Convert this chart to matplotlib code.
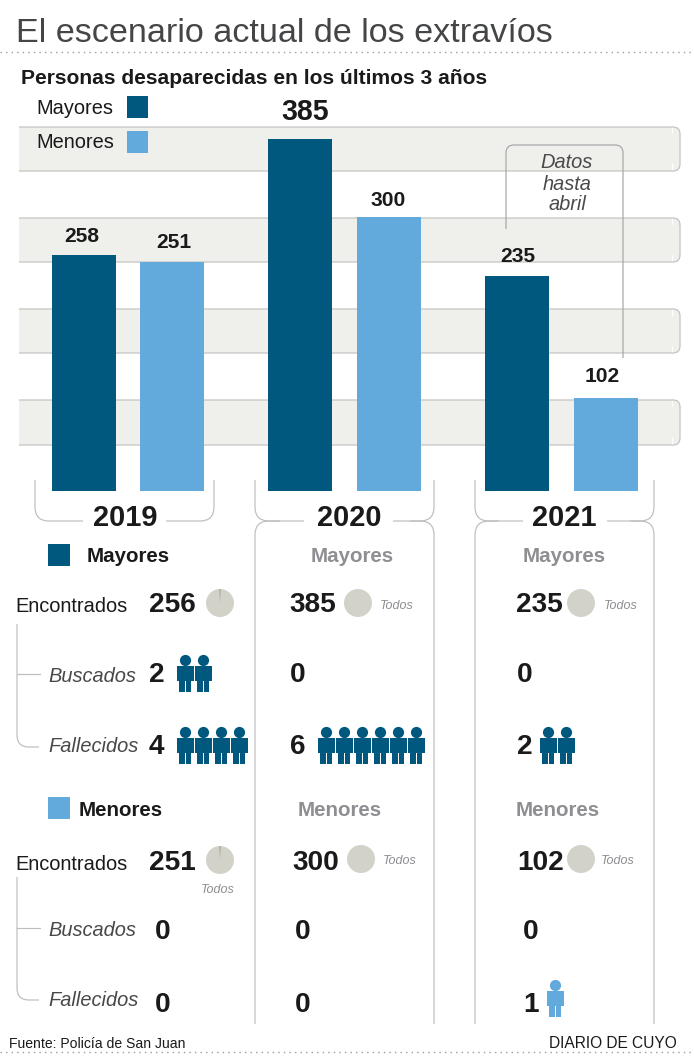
#!/usr/bin/env python
# -*- coding: utf-8 -*-
"""
Infographic: missing persons in San Juan, last 3 years
"""
import matplotlib
matplotlib.use("Agg")
import matplotlib.pyplot as plt
from matplotlib.patches import Circle, PathPatch, Rectangle, Wedge
from matplotlib.path import Path

plt.rcParams['font.family'] = ['Liberation Sans', 'DejaVu Sans']

# Data
years = ["2019", "2020", "2021"]
mayores = [258, 385, 235]
menores = [251, 300, 102]
may_encontrados = [256, 385, 235]
may_buscados = [2, 0, 0]
may_fallecidos = [4, 6, 2]
men_encontrados = [251, 300, 102]
men_buscados = [0, 0, 0]
men_fallecidos = [0, 0, 1]

DARK = "#00587f"
LIGHT = "#62a9dc"
BAND = "#efefec"
LINE = "#bdbdbd"
PIE = "#d2d2c8"
TXT = "#1a1a1a"
GREY = "#8e8e93"

W, H = 694, 1063
BASE_Y = 490.5
TOP_Y = 139.5


def px(size):
    return size * 0.72


def rounded(ax, pts, r=14, color=LINE, lw=0.85, zorder=2):
    """Polyline through pts with rounded inner corners"""
    verts = [pts[0]]
    codes = [Path.MOVETO]
    for i in range(1, len(pts) - 1):
        x0, y0 = pts[i - 1]
        x1, y1 = pts[i]
        x2, y2 = pts[i + 1]
        l0 = abs(x1 - x0) + abs(y1 - y0)
        l2 = abs(x2 - x1) + abs(y2 - y1)
        verts += [(x1 + (x0 - x1) * r / l0, y1 + (y0 - y1) * r / l0), (x1, y1),
                  (x1 + (x2 - x1) * r / l2, y1 + (y2 - y1) * r / l2)]
        codes += [Path.LINETO, Path.CURVE3, Path.CURVE3]
    verts.append(pts[-1])
    codes.append(Path.LINETO)
    ax.add_patch(PathPatch(Path(verts, codes), fc="none", ec=color, lw=lw,
                           zorder=zorder, capstyle="butt"))


def person(ax, x, top, color):
    """Small pictogram, x is the left edge, top the top of the head"""
    ax.add_patch(Circle((x + 8.5, top + 5.5), 5.6, fc=color, ec="none"))
    ax.add_patch(Rectangle((x, top + 11), 17, 15, fc=color, ec="none"))
    ax.add_patch(Rectangle((x + 2.5, top + 25), 5.6, 12, fc=color, ec="none"))
    ax.add_patch(Rectangle((x + 8.9, top + 25), 5.6, 12, fc=color, ec="none"))


def people(ax, n, x, top, color, step=18):
    for i in range(n):
        person(ax, x + i * step, top, color)


def pie(ax, x, y, sliver=False):
    ax.add_patch(Circle((x, y), 14, fc=PIE, ec="none"))
    if sliver:
        ax.add_patch(Wedge((x, y), 14, 268, 272, fc="#8f8f88", ec="none"))


fig = plt.figure(figsize=(W / 100, H / 100), dpi=100)
ax = fig.add_axes([0, 0, 1, 1])
ax.set_xlim(0, W)
ax.set_ylim(H, 0)
ax.axis("off")


def label(x, y, s, size, **kw):
    # va=center sits a bit high against the reference
    kw.setdefault("color", TXT)
    kw.setdefault("va", "center")
    return ax.text(x, y + 2, s, fontsize=px(size), **kw)


# Header
ax.text(16, 42, "El escenario actual de los extravíos", fontsize=px(34.2),
        color="#434547", va="baseline")
ax.plot([0, W], [52, 52], color="#9a9a9a", lw=1, ls=(0, (1, 3)))
label(21, 76, "Personas desaparecidas en los últimos 3 años", 21, fontweight="bold")

# Background bands
for top, bottom in [(127, 171), (218, 262), (309, 353), (400, 445)]:
    ax.add_patch(Rectangle((19, top), 653, bottom - top, fc=BAND, ec="none", zorder=0))
    ax.add_patch(Rectangle((670, top + 7), 10, bottom - top - 14, fc=BAND, ec="none", zorder=0))
    ax.add_patch(Wedge((673, top + 7), 7, 270, 360, fc=BAND, ec="none", zorder=0))
    ax.add_patch(Wedge((673, bottom - 7), 7, 0, 90, fc=BAND, ec="none", zorder=0))
    rounded(ax, [(19, top), (680, top), (680, bottom), (19, bottom)], r=7, lw=0.9,
            color="#c4c4c2", zorder=1)

# Bars
bar_ax = fig.add_axes([0, (H - BASE_Y) / H, 1, (BASE_Y - TOP_Y) / H], zorder=3)
bar_ax.patch.set_alpha(0)
bar_ax.axis("off")
bar_ax.set_xlim(0, W)
bar_ax.set_ylim(0, max(mayores))
bar_ax.bar([84, 300, 517], mayores, width=64, color=DARK)
bar_ax.bar([172, 389, 606], menores, width=64, color=LIGHT)

label_pos = [(82, 234), (174, 241), (305, 110), (388, 198), (518, 255), (602, 375)]
label_vals = [mayores[0], menores[0], mayores[1], menores[1], mayores[2], menores[2]]
for (x, y), v in zip(label_pos, label_vals):
    label(x, y, str(v), 28.5 if v == max(mayores) else 21, fontweight="bold", ha="center")

# Legend on top
for y, name, col in [(107, "Mayores", DARK), (142, "Menores", LIGHT)]:
    label(36, y - 1, name, 20, zorder=5)
    ax.add_patch(Rectangle((127, y - 11), 21, 22, fc=col, ec="none", zorder=5))

# "Datos hasta abril" bracket
rounded(ax, [(506, 229), (506, 145), (623, 145), (623, 358)], r=8, color="#a5a5a8", zorder=4)
for y, s in [(161, "Datos"), (182, "hasta"), (203, "abril")]:
    label(567, y, s, 20, style="italic", color="#4a4a4a", ha="center", zorder=5)

# Year brackets and column rules
rounded(ax, [(35, 480), (35, 521), (83, 521)])
rounded(ax, [(166, 521), (214, 521), (214, 480)])
rounded(ax, [(255, 480), (255, 521), (304, 521)])
rounded(ax, [(393, 521), (434, 521), (434, 480)])
rounded(ax, [(475, 480), (475, 521), (523, 521)])
rounded(ax, [(607, 521), (654, 521), (654, 480)])
rounded(ax, [(280, 521), (255, 521), (255, 1024)])
rounded(ax, [(410, 521), (434, 521), (434, 1024)])
rounded(ax, [(499, 521), (475, 521), (475, 1024)])
rounded(ax, [(630, 521), (654, 521), (654, 1024)])
for x, y in zip([125, 349, 564], years):
    label(x, 516, y, 29, fontweight="bold", ha="center")

# Section heads
ax.add_patch(Rectangle((48, 544), 22, 22, fc=DARK, ec="none"))
label(87, 554, "Mayores", 20.5, fontweight="bold")
ax.add_patch(Rectangle((48, 797), 22, 22, fc=LIGHT, ec="none"))
label(79, 808, "Menores", 20.5, fontweight="bold")
for x, y, s in [(352, 554, "Mayores"), (564, 554, "Mayores"), (340, 808, "Menores"), (558, 808, "Menores")]:
    label(x, y, s, 20.5, fontweight="bold", color=GREY, ha="center")

# Row labels and trees
for y_enc, y_bus, y_fal, y_t0, y_t1 in [(605, 674, 744, 624, 747), (862, 928, 998, 877, 1000)]:
    label(15, y_enc, "Encontrados", 20)
    label(48, y_bus, "Buscados", 20, style="italic", color="#48484a")
    label(48, y_fal, "Fallecidos", 20, style="italic", color="#48484a")
    rounded(ax, [(17, y_t0), (17, y_t1), (39, y_t1)], r=12)
    ax.plot([17, 40], [y_bus, y_bus], color=LINE, lw=0.85)


def number(x, y, v):
    label(x, y, str(v), 28, fontweight="bold")


# Mayores rows
for x, v in zip([149, 289, 516], may_encontrados):
    number(x, 603, v)
pie(ax, 220, 603, sliver=True)
pie(ax, 358, 603)
pie(ax, 581, 603)
for x, v in zip([149, 290, 517], may_buscados):
    number(x, 673, v)
for x, v, ix in zip([149, 290, 517], may_fallecidos, [177, 318, 540]):
    number(x, 745, v)
    people(ax, v, ix, 727, DARK)
people(ax, may_buscados[0], 177, 655, DARK)

# Menores rows
for x, v in zip([149, 292, 517], men_encontrados):
    number(x, 861, v)
pie(ax, 220, 860, sliver=True)
pie(ax, 361, 859)
pie(ax, 581, 859)
for x, v in zip([155, 295, 523], men_buscados):
    number(x, 930, v)
for x, v in zip([155, 295, 523], men_fallecidos):
    number(x, 1003, v)
people(ax, men_fallecidos[2], 547, 980, LIGHT)

for x, y in [(397, 604), (621, 604), (218, 888), (400, 859), (618, 859)]:
    label(x, y, "Todos", 12.5, style="italic", color=GREY, ha="center")

# Footer
label(9, 1042, "Fuente: Policía de San Juan", 14)
label(677, 1042, "DIARIO DE CUYO", 15.5, ha="right")
ax.plot([0, W], [1052, 1052], color="#9a9a9a", lw=1, ls=(0, (1, 3)))

fig.savefig("out.png", dpi=100)
